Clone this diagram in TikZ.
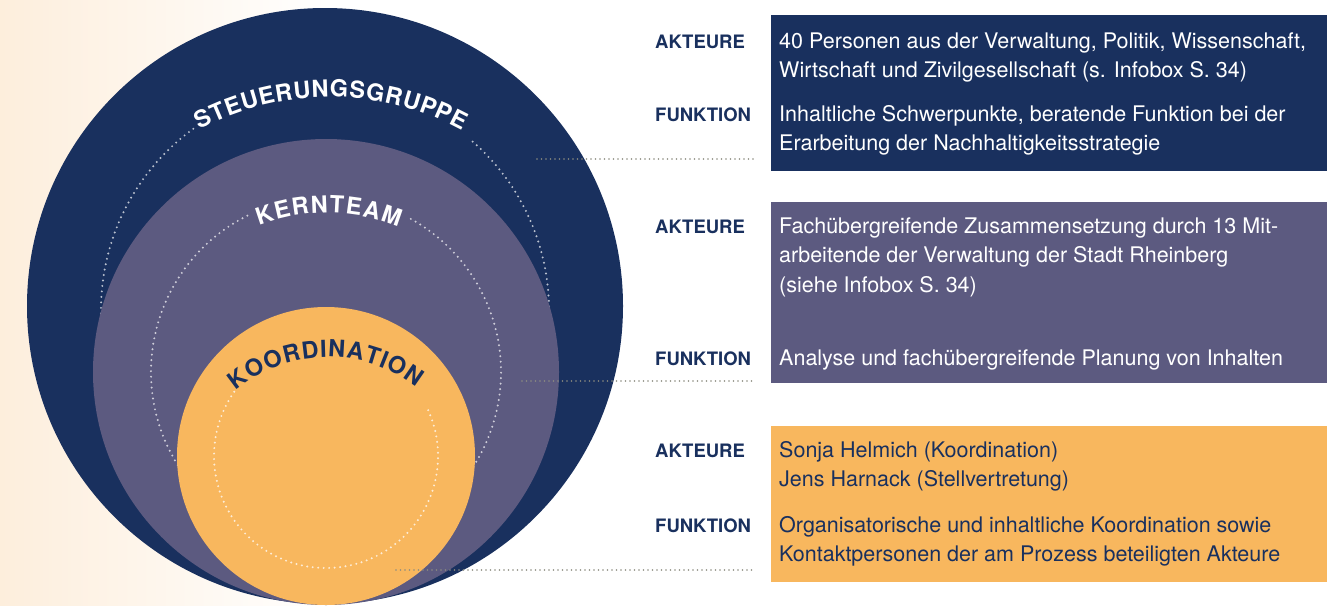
\documentclass[tikz,border=0pt]{standalone}
\usepackage{fontspec}
\setmainfont{TeX Gyre Heros}
\usetikzlibrary{decorations.text}

\definecolor{sgblue}{HTML}{19305E}
\definecolor{ktviolet}{HTML}{5C5A80}
\definecolor{koorange}{HTML}{F8B75E}
\definecolor{peach}{HTML}{FDEEDC}
\definecolor{leadgray}{HTML}{8C8C80}

\newcommand\entrylines[1]{\begin{tabular}[t]{@{}l@{}}#1\end{tabular}}
\newcommand\arcwhite{\color{white}\bfseries\fontsize{23.5}{23.5}\selectfont}
\newcommand\arcblue{\color{sgblue}\bfseries\fontsize{23.5}{23.5}\selectfont}

\begin{document}
\begin{tikzpicture}[x=1pt,y=1pt,
    rowlabel/.style={anchor=base west, inner sep=0pt, text=sgblue,
      font=\bfseries\fontsize{18.5}{18.5}\selectfont},
    entry/.style={anchor=base west, inner sep=0pt,
      font=\fontsize{21.5}{29.5}\selectfont},
    panel/.style={anchor=north west, inner sep=0pt, minimum width=556pt},
    leader/.style={draw=leadgray, line width=1.8pt, line cap=round, dash pattern=on 0pt off 4.5pt},
    ring/.style={line width=2.2pt, line cap=round, dash pattern=on 0pt off 5.5pt},
    arctext/.style={decorate, decoration={text along path, text align=fit to path, text={#1}}}]
  \useasboundingbox (0,0) rectangle (1341,-605);
  \fill[white] (0,0) rectangle (1341,-605);
  \shade[left color=peach, right color=white] (0,0) rectangle (330,-605);

  % circles
  \fill[sgblue] (325,-306) circle[radius=298];
  \draw[ring, white, opacity=.7] (325,-310) ++(126:224) arc[start angle=126, end angle=409.8, radius=224];
  \fill[ktviolet] (326,-372) circle[radius=233];
  \draw[ring, white, opacity=.7] (326,-372) ++(116.7:175) arc[start angle=116.7, end angle=422.5, radius=175];
  \fill[koorange] (326,-456) circle[radius=149];
  \draw[ring, white, opacity=.75] (326,-456) ++(145:112) arc[start angle=145, end angle=386, radius=112];

  \path[arctext={|\arcwhite|STEUERUNGSGRUPPE}] (330,-375) ++(118:278) arc[start angle=118, end angle=61.5, radius=278];
  \path[arctext={|\arcwhite|KERNTEAM}] (327,-403) ++(111:190) arc[start angle=111, end angle=68, radius=190];
  \path[arctext={|\arcblue|KOORDINATION}] (328,-500) ++(130:143) arc[start angle=130, end angle=52, radius=143];

  % panels
  \node[panel, fill=sgblue, minimum height=156pt] (sgbox) at (771,-15) {};
  \node[panel, fill=ktviolet, minimum height=181pt] (ktbox) at (771,-202) {};
  \node[panel, fill=koorange, minimum height=156pt] (kobox) at (771,-426) {};

  \node[rowlabel] (sgakt) at (655,-48) {AKTEURE};
  \node[rowlabel] (sgfkt) at (655,-121) {FUNKTION};
  \node[rowlabel] (ktakt) at (655,-233) {AKTEURE};
  \node[rowlabel] (ktfkt) at (655,-365) {FUNKTION};
  \node[rowlabel] (koakt) at (655,-457) {AKTEURE};
  \node[rowlabel] (kofkt) at (655,-532) {FUNKTION};

  \node[entry, text=white] (sgakttext) at (779,-48) {\entrylines{40 Personen aus der Verwaltung, Politik, Wissenschaft,\\Wirtschaft und Zivilgesellschaft (s. Infobox S. 34)}};
  \node[entry, text=white] (sgfkttext) at (779,-121) {\entrylines{Inhaltliche Schwerpunkte, beratende Funktion bei der\\Erarbeitung der Nachhaltigkeitsstrategie}};
  \node[entry, text=white] (ktakttext) at (779,-233) {\entrylines{Fachübergreifende Zusammensetzung durch 13 Mit-\\arbeitende der Verwaltung der Stadt Rheinberg\\(siehe Infobox S. 34)}};
  \node[entry, text=white] (ktfkttext) at (779,-365) {Analyse und fachübergreifende Planung von Inhalten};
  \node[entry, text=sgblue] (koakttext) at (779,-457) {\entrylines{Sonja Helmich (Koordination)\\Jens Harnack (Stellvertretung)}};
  \node[entry, text=sgblue] (kofkttext) at (779,-532) {\entrylines{Organisatorische und inhaltliche Koordination sowie\\Kontaktpersonen der am Prozess beteiligten Akteure}};

  % leaders
  \coordinate (sgin) at (537,-159);
  \coordinate (sgout) at (754,-159);
  \coordinate (ktin) at (522,-381);
  \coordinate (ktout) at (754,-381);
  \coordinate (koin) at (396,-570);
  \coordinate (koout) at (754,-570);
  \draw[leader] (sgin) -- (sgout);
  \draw[leader] (ktin) -- (ktout);
  \draw[leader] (koin) -- (koout);
\end{tikzpicture}
\end{document}
